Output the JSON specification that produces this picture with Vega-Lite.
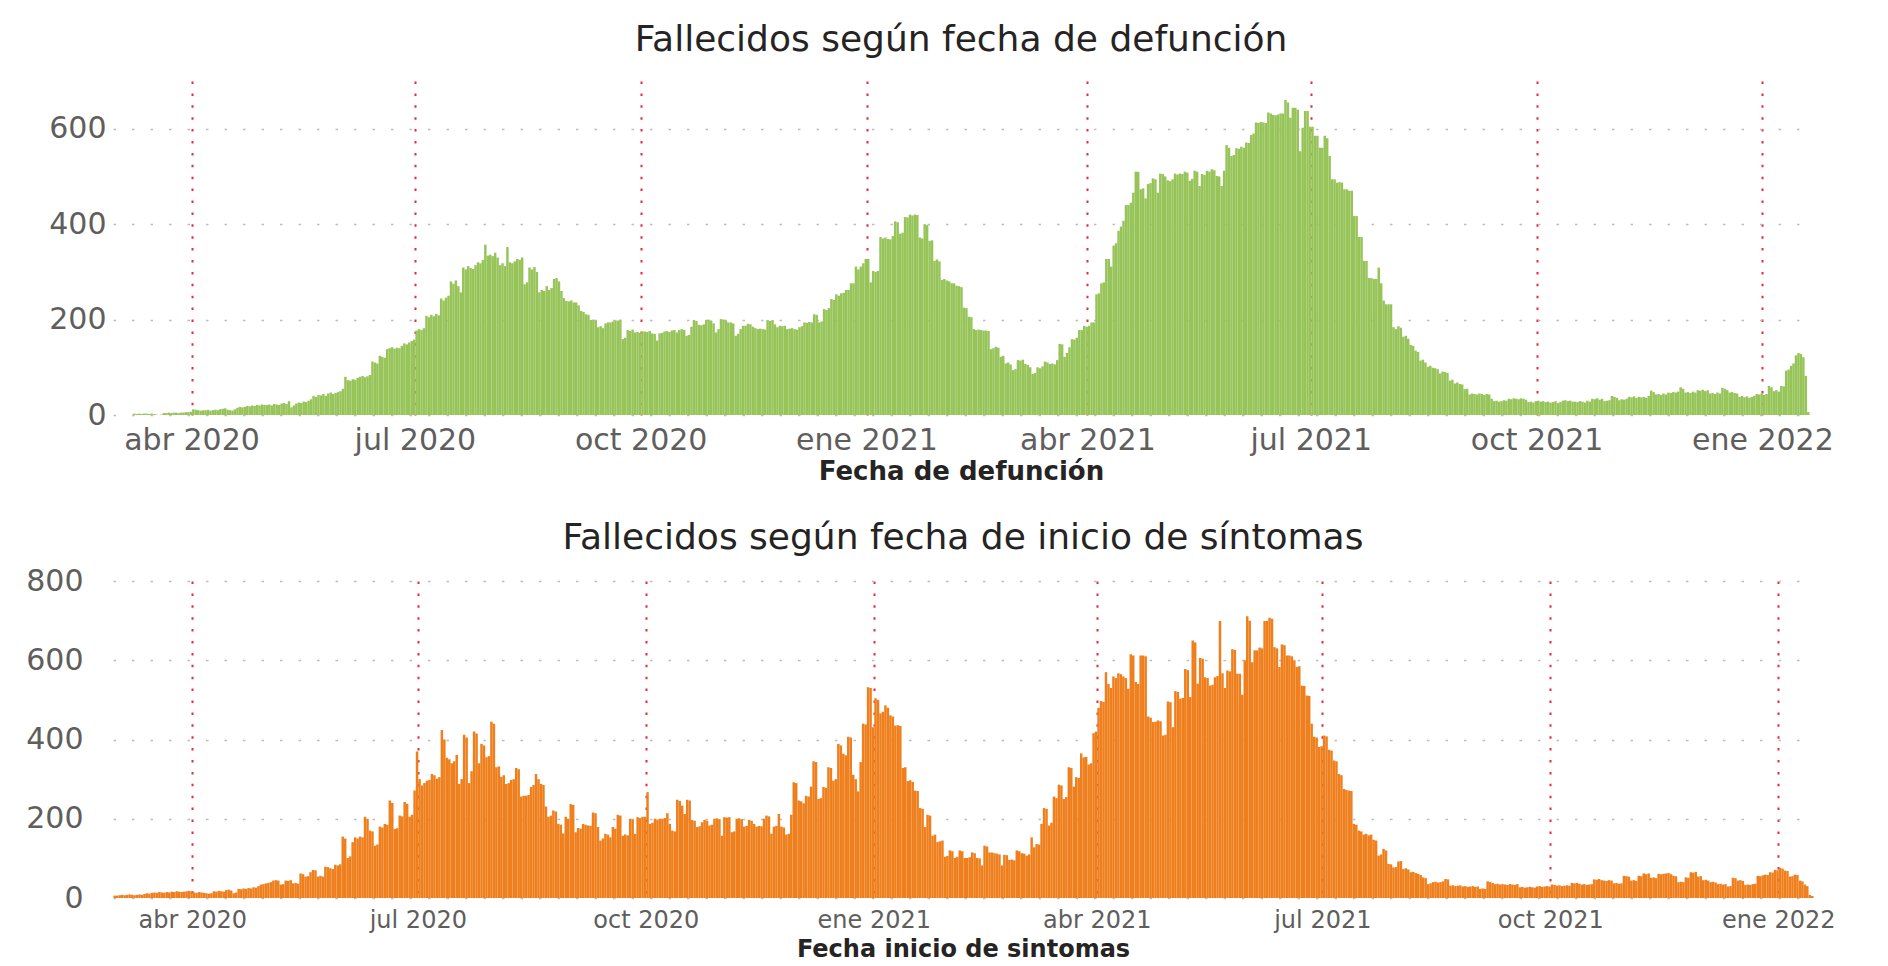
{
"$schema":"https://vega.github.io/schema/vega-lite/v6.json",
"background":"white",
"padding":{"left":25,"top":22,"right":10,"bottom":2},
"config":{"font":"DejaVu Sans","view":{"stroke":null},
"axis":{"domain":false,"ticks":false,"labelColor":"#605E5C","titleColor":"#252423","titleFontWeight":"bold","labelFont":"DejaVu Sans","titleFont":"DejaVu Sans"},
"title":{"color":"#252423","fontSize":36,"fontWeight":"normal","anchor":"middle","font":"DejaVu Sans"}},
"datasets":{
"def":[
{"d":"2020-03-08","v":3},{"d":"2020-03-09","v":2},{"d":"2020-03-10","v":3},{"d":"2020-03-11","v":2},{"d":"2020-03-12","v":3},{"d":"2020-03-13","v":3},{"d":"2020-03-14","v":2},{"d":"2020-03-15","v":3},{"d":"2020-03-16","v":2},{"d":"2020-03-17","v":1},{"d":"2020-03-18","v":0},{"d":"2020-03-19","v":1},{"d":"2020-03-20","v":4},{"d":"2020-03-21","v":4},{"d":"2020-03-22","v":5},{"d":"2020-03-23","v":4},{"d":"2020-03-24","v":5},{"d":"2020-03-25","v":5},{"d":"2020-03-26","v":4},{"d":"2020-03-27","v":5},{"d":"2020-03-28","v":5},{"d":"2020-03-29","v":6},{"d":"2020-03-30","v":6},{"d":"2020-03-31","v":7},
{"d":"2020-04-01","v":12},{"d":"2020-04-02","v":11},{"d":"2020-04-03","v":10},{"d":"2020-04-04","v":9},{"d":"2020-04-05","v":10},{"d":"2020-04-06","v":10},{"d":"2020-04-07","v":11},{"d":"2020-04-08","v":9},{"d":"2020-04-09","v":10},{"d":"2020-04-10","v":11},{"d":"2020-04-11","v":10},{"d":"2020-04-12","v":12},{"d":"2020-04-13","v":13},{"d":"2020-04-14","v":14},{"d":"2020-04-15","v":11},{"d":"2020-04-16","v":10},{"d":"2020-04-17","v":9},{"d":"2020-04-18","v":12},{"d":"2020-04-19","v":15},{"d":"2020-04-20","v":17},{"d":"2020-04-21","v":16},{"d":"2020-04-22","v":17},{"d":"2020-04-23","v":19},{"d":"2020-04-24","v":18},{"d":"2020-04-25","v":20},{"d":"2020-04-26","v":19},{"d":"2020-04-27","v":21},{"d":"2020-04-28","v":20},{"d":"2020-04-29","v":22},{"d":"2020-04-30","v":21},
{"d":"2020-05-01","v":21},{"d":"2020-05-02","v":22},{"d":"2020-05-03","v":20},{"d":"2020-05-04","v":23},{"d":"2020-05-05","v":22},{"d":"2020-05-06","v":21},{"d":"2020-05-07","v":24},{"d":"2020-05-08","v":25},{"d":"2020-05-09","v":23},{"d":"2020-05-10","v":29},{"d":"2020-05-11","v":16},{"d":"2020-05-12","v":20},{"d":"2020-05-13","v":24},{"d":"2020-05-14","v":26},{"d":"2020-05-15","v":25},{"d":"2020-05-16","v":28},{"d":"2020-05-17","v":27},{"d":"2020-05-18","v":30},{"d":"2020-05-19","v":33},{"d":"2020-05-20","v":40},{"d":"2020-05-21","v":38},{"d":"2020-05-22","v":42},{"d":"2020-05-23","v":41},{"d":"2020-05-24","v":44},{"d":"2020-05-25","v":40},{"d":"2020-05-26","v":45},{"d":"2020-05-27","v":47},{"d":"2020-05-28","v":44},{"d":"2020-05-29","v":46},{"d":"2020-05-30","v":48},{"d":"2020-05-31","v":50},
{"d":"2020-06-01","v":55},{"d":"2020-06-02","v":80},{"d":"2020-06-03","v":73},{"d":"2020-06-04","v":72},{"d":"2020-06-05","v":75},{"d":"2020-06-06","v":74},{"d":"2020-06-07","v":78},{"d":"2020-06-08","v":80},{"d":"2020-06-09","v":82},{"d":"2020-06-10","v":79},{"d":"2020-06-11","v":81},{"d":"2020-06-12","v":84},{"d":"2020-06-13","v":112},{"d":"2020-06-14","v":110},{"d":"2020-06-15","v":108},{"d":"2020-06-16","v":124},{"d":"2020-06-17","v":122},{"d":"2020-06-18","v":120},{"d":"2020-06-19","v":138},{"d":"2020-06-20","v":140},{"d":"2020-06-21","v":142},{"d":"2020-06-22","v":139},{"d":"2020-06-23","v":141},{"d":"2020-06-24","v":140},{"d":"2020-06-25","v":145},{"d":"2020-06-26","v":150},{"d":"2020-06-27","v":148},{"d":"2020-06-28","v":152},{"d":"2020-06-29","v":155},{"d":"2020-06-30","v":158},
{"d":"2020-07-01","v":177},{"d":"2020-07-02","v":180},{"d":"2020-07-03","v":178},{"d":"2020-07-04","v":182},{"d":"2020-07-05","v":208},{"d":"2020-07-06","v":205},{"d":"2020-07-07","v":210},{"d":"2020-07-08","v":207},{"d":"2020-07-09","v":212},{"d":"2020-07-10","v":209},{"d":"2020-07-11","v":244},{"d":"2020-07-12","v":240},{"d":"2020-07-13","v":246},{"d":"2020-07-14","v":250},{"d":"2020-07-15","v":280},{"d":"2020-07-16","v":275},{"d":"2020-07-17","v":282},{"d":"2020-07-18","v":270},{"d":"2020-07-19","v":257},{"d":"2020-07-20","v":309},{"d":"2020-07-21","v":305},{"d":"2020-07-22","v":312},{"d":"2020-07-23","v":308},{"d":"2020-07-24","v":306},{"d":"2020-07-25","v":314},{"d":"2020-07-26","v":320},{"d":"2020-07-27","v":318},{"d":"2020-07-28","v":325},{"d":"2020-07-29","v":357},{"d":"2020-07-30","v":334},{"d":"2020-07-31","v":336},
{"d":"2020-08-01","v":333},{"d":"2020-08-02","v":340},{"d":"2020-08-03","v":330},{"d":"2020-08-04","v":314},{"d":"2020-08-05","v":318},{"d":"2020-08-06","v":312},{"d":"2020-08-07","v":352},{"d":"2020-08-08","v":320},{"d":"2020-08-09","v":318},{"d":"2020-08-10","v":322},{"d":"2020-08-11","v":327},{"d":"2020-08-12","v":325},{"d":"2020-08-13","v":330},{"d":"2020-08-14","v":274},{"d":"2020-08-15","v":278},{"d":"2020-08-16","v":309},{"d":"2020-08-17","v":305},{"d":"2020-08-18","v":310},{"d":"2020-08-19","v":300},{"d":"2020-08-20","v":257},{"d":"2020-08-21","v":262},{"d":"2020-08-22","v":260},{"d":"2020-08-23","v":270},{"d":"2020-08-24","v":262},{"d":"2020-08-25","v":266},{"d":"2020-08-26","v":285},{"d":"2020-08-27","v":287},{"d":"2020-08-28","v":280},{"d":"2020-08-29","v":260},{"d":"2020-08-30","v":245},{"d":"2020-08-31","v":239},
{"d":"2020-09-01","v":238},{"d":"2020-09-02","v":240},{"d":"2020-09-03","v":236},{"d":"2020-09-04","v":236},{"d":"2020-09-05","v":230},{"d":"2020-09-06","v":218},{"d":"2020-09-07","v":216},{"d":"2020-09-08","v":211},{"d":"2020-09-09","v":210},{"d":"2020-09-10","v":199},{"d":"2020-09-11","v":200},{"d":"2020-09-12","v":198},{"d":"2020-09-13","v":184},{"d":"2020-09-14","v":186},{"d":"2020-09-15","v":182},{"d":"2020-09-16","v":192},{"d":"2020-09-17","v":194},{"d":"2020-09-18","v":194},{"d":"2020-09-19","v":196},{"d":"2020-09-20","v":198},{"d":"2020-09-21","v":198},{"d":"2020-09-22","v":200},{"d":"2020-09-23","v":159},{"d":"2020-09-24","v":162},{"d":"2020-09-25","v":178},{"d":"2020-09-26","v":176},{"d":"2020-09-27","v":179},{"d":"2020-09-28","v":173},{"d":"2020-09-29","v":174},{"d":"2020-09-30","v":172},
{"d":"2020-10-01","v":175},{"d":"2020-10-02","v":175},{"d":"2020-10-03","v":174},{"d":"2020-10-04","v":176},{"d":"2020-10-05","v":171},{"d":"2020-10-06","v":170},{"d":"2020-10-07","v":156},{"d":"2020-10-08","v":171},{"d":"2020-10-09","v":172},{"d":"2020-10-10","v":175},{"d":"2020-10-11","v":176},{"d":"2020-10-12","v":174},{"d":"2020-10-13","v":177},{"d":"2020-10-14","v":178},{"d":"2020-10-15","v":173},{"d":"2020-10-16","v":178},{"d":"2020-10-17","v":180},{"d":"2020-10-18","v":178},{"d":"2020-10-19","v":166},{"d":"2020-10-20","v":168},{"d":"2020-10-21","v":185},{"d":"2020-10-22","v":199},{"d":"2020-10-23","v":197},{"d":"2020-10-24","v":189},{"d":"2020-10-25","v":188},{"d":"2020-10-26","v":190},{"d":"2020-10-27","v":199},{"d":"2020-10-28","v":200},{"d":"2020-10-29","v":198},{"d":"2020-10-30","v":192},{"d":"2020-10-31","v":173},
{"d":"2020-11-01","v":180},{"d":"2020-11-02","v":201},{"d":"2020-11-03","v":200},{"d":"2020-11-04","v":198},{"d":"2020-11-05","v":194},{"d":"2020-11-06","v":194},{"d":"2020-11-07","v":192},{"d":"2020-11-08","v":166},{"d":"2020-11-09","v":170},{"d":"2020-11-10","v":180},{"d":"2020-11-11","v":187},{"d":"2020-11-12","v":187},{"d":"2020-11-13","v":191},{"d":"2020-11-14","v":190},{"d":"2020-11-15","v":185},{"d":"2020-11-16","v":182},{"d":"2020-11-17","v":180},{"d":"2020-11-18","v":181},{"d":"2020-11-19","v":180},{"d":"2020-11-20","v":179},{"d":"2020-11-21","v":199},{"d":"2020-11-22","v":197},{"d":"2020-11-23","v":199},{"d":"2020-11-24","v":190},{"d":"2020-11-25","v":184},{"d":"2020-11-26","v":187},{"d":"2020-11-27","v":186},{"d":"2020-11-28","v":187},{"d":"2020-11-29","v":180},{"d":"2020-11-30","v":181},
{"d":"2020-12-01","v":182},{"d":"2020-12-02","v":180},{"d":"2020-12-03","v":179},{"d":"2020-12-04","v":184},{"d":"2020-12-05","v":186},{"d":"2020-12-06","v":194},{"d":"2020-12-07","v":193},{"d":"2020-12-08","v":195},{"d":"2020-12-09","v":194},{"d":"2020-12-10","v":211},{"d":"2020-12-11","v":210},{"d":"2020-12-12","v":194},{"d":"2020-12-13","v":196},{"d":"2020-12-14","v":222},{"d":"2020-12-15","v":220},{"d":"2020-12-16","v":224},{"d":"2020-12-17","v":243},{"d":"2020-12-18","v":241},{"d":"2020-12-19","v":253},{"d":"2020-12-20","v":250},{"d":"2020-12-21","v":255},{"d":"2020-12-22","v":256},{"d":"2020-12-23","v":262},{"d":"2020-12-24","v":262},{"d":"2020-12-25","v":276},{"d":"2020-12-26","v":276},{"d":"2020-12-27","v":311},{"d":"2020-12-28","v":305},{"d":"2020-12-29","v":311},{"d":"2020-12-30","v":318},{"d":"2020-12-31","v":327},
{"d":"2021-01-01","v":327},{"d":"2021-01-02","v":278},{"d":"2021-01-03","v":302},{"d":"2021-01-04","v":300},{"d":"2021-01-05","v":302},{"d":"2021-01-06","v":373},{"d":"2021-01-07","v":370},{"d":"2021-01-08","v":372},{"d":"2021-01-09","v":369},{"d":"2021-01-10","v":368},{"d":"2021-01-11","v":375},{"d":"2021-01-12","v":406},{"d":"2021-01-13","v":404},{"d":"2021-01-14","v":380},{"d":"2021-01-15","v":382},{"d":"2021-01-16","v":415},{"d":"2021-01-17","v":414},{"d":"2021-01-18","v":420},{"d":"2021-01-19","v":418},{"d":"2021-01-20","v":420},{"d":"2021-01-21","v":419},{"d":"2021-01-22","v":372},{"d":"2021-01-23","v":370},{"d":"2021-01-24","v":400},{"d":"2021-01-25","v":398},{"d":"2021-01-26","v":365},{"d":"2021-01-27","v":366},{"d":"2021-01-28","v":323},{"d":"2021-01-29","v":326},{"d":"2021-01-30","v":322},{"d":"2021-01-31","v":283},
{"d":"2021-02-01","v":285},{"d":"2021-02-02","v":282},{"d":"2021-02-03","v":280},{"d":"2021-02-04","v":276},{"d":"2021-02-05","v":276},{"d":"2021-02-06","v":271},{"d":"2021-02-07","v":270},{"d":"2021-02-08","v":268},{"d":"2021-02-09","v":225},{"d":"2021-02-10","v":224},{"d":"2021-02-11","v":206},{"d":"2021-02-12","v":205},{"d":"2021-02-13","v":180},{"d":"2021-02-14","v":178},{"d":"2021-02-15","v":179},{"d":"2021-02-16","v":178},{"d":"2021-02-17","v":177},{"d":"2021-02-18","v":177},{"d":"2021-02-19","v":176},{"d":"2021-02-20","v":138},{"d":"2021-02-21","v":140},{"d":"2021-02-22","v":143},{"d":"2021-02-23","v":141},{"d":"2021-02-24","v":122},{"d":"2021-02-25","v":124},{"d":"2021-02-26","v":108},{"d":"2021-02-27","v":110},{"d":"2021-02-28","v":106},
{"d":"2021-03-01","v":94},{"d":"2021-03-02","v":96},{"d":"2021-03-03","v":115},{"d":"2021-03-04","v":114},{"d":"2021-03-05","v":116},{"d":"2021-03-06","v":107},{"d":"2021-03-07","v":105},{"d":"2021-03-08","v":100},{"d":"2021-03-09","v":86},{"d":"2021-03-10","v":88},{"d":"2021-03-11","v":100},{"d":"2021-03-12","v":98},{"d":"2021-03-13","v":102},{"d":"2021-03-14","v":112},{"d":"2021-03-15","v":110},{"d":"2021-03-16","v":107},{"d":"2021-03-17","v":108},{"d":"2021-03-18","v":106},{"d":"2021-03-19","v":115},{"d":"2021-03-20","v":149},{"d":"2021-03-21","v":148},{"d":"2021-03-22","v":122},{"d":"2021-03-23","v":130},{"d":"2021-03-24","v":142},{"d":"2021-03-25","v":159},{"d":"2021-03-26","v":158},{"d":"2021-03-27","v":162},{"d":"2021-03-28","v":178},{"d":"2021-03-29","v":178},{"d":"2021-03-30","v":187},{"d":"2021-03-31","v":185},
{"d":"2021-04-01","v":187},{"d":"2021-04-02","v":194},{"d":"2021-04-03","v":194},{"d":"2021-04-04","v":253},{"d":"2021-04-05","v":255},{"d":"2021-04-06","v":276},{"d":"2021-04-07","v":278},{"d":"2021-04-08","v":327},{"d":"2021-04-09","v":327},{"d":"2021-04-10","v":311},{"d":"2021-04-11","v":355},{"d":"2021-04-12","v":360},{"d":"2021-04-13","v":386},{"d":"2021-04-14","v":395},{"d":"2021-04-15","v":407},{"d":"2021-04-16","v":440},{"d":"2021-04-17","v":440},{"d":"2021-04-18","v":445},{"d":"2021-04-19","v":466},{"d":"2021-04-20","v":510},{"d":"2021-04-21","v":510},{"d":"2021-04-22","v":473},{"d":"2021-04-23","v":475},{"d":"2021-04-24","v":454},{"d":"2021-04-25","v":484},{"d":"2021-04-26","v":486},{"d":"2021-04-27","v":496},{"d":"2021-04-28","v":494},{"d":"2021-04-29","v":466},{"d":"2021-04-30","v":506},
{"d":"2021-05-01","v":505},{"d":"2021-05-02","v":500},{"d":"2021-05-03","v":492},{"d":"2021-05-04","v":490},{"d":"2021-05-05","v":494},{"d":"2021-05-06","v":506},{"d":"2021-05-07","v":504},{"d":"2021-05-08","v":506},{"d":"2021-05-09","v":505},{"d":"2021-05-10","v":510},{"d":"2021-05-11","v":508},{"d":"2021-05-12","v":491},{"d":"2021-05-13","v":495},{"d":"2021-05-14","v":512},{"d":"2021-05-15","v":510},{"d":"2021-05-16","v":480},{"d":"2021-05-17","v":505},{"d":"2021-05-18","v":503},{"d":"2021-05-19","v":512},{"d":"2021-05-20","v":510},{"d":"2021-05-21","v":515},{"d":"2021-05-22","v":513},{"d":"2021-05-23","v":501},{"d":"2021-05-24","v":500},{"d":"2021-05-25","v":480},{"d":"2021-05-26","v":512},{"d":"2021-05-27","v":566},{"d":"2021-05-28","v":560},{"d":"2021-05-29","v":543},{"d":"2021-05-30","v":545},{"d":"2021-05-31","v":559},
{"d":"2021-06-01","v":558},{"d":"2021-06-02","v":562},{"d":"2021-06-03","v":560},{"d":"2021-06-04","v":571},{"d":"2021-06-05","v":570},{"d":"2021-06-06","v":587},{"d":"2021-06-07","v":590},{"d":"2021-06-08","v":613},{"d":"2021-06-09","v":612},{"d":"2021-06-10","v":614},{"d":"2021-06-11","v":613},{"d":"2021-06-12","v":612},{"d":"2021-06-13","v":634},{"d":"2021-06-14","v":632},{"d":"2021-06-15","v":629},{"d":"2021-06-16","v":628},{"d":"2021-06-17","v":630},{"d":"2021-06-18","v":632},{"d":"2021-06-19","v":632},{"d":"2021-06-20","v":660},{"d":"2021-06-21","v":655},{"d":"2021-06-22","v":623},{"d":"2021-06-23","v":644},{"d":"2021-06-24","v":644},{"d":"2021-06-25","v":640},{"d":"2021-06-26","v":553},{"d":"2021-06-27","v":602},{"d":"2021-06-28","v":637},{"d":"2021-06-29","v":637},{"d":"2021-06-30","v":604},
{"d":"2021-07-01","v":604},{"d":"2021-07-02","v":585},{"d":"2021-07-03","v":585},{"d":"2021-07-04","v":560},{"d":"2021-07-05","v":560},{"d":"2021-07-06","v":585},{"d":"2021-07-07","v":580},{"d":"2021-07-08","v":543},{"d":"2021-07-09","v":494},{"d":"2021-07-10","v":494},{"d":"2021-07-11","v":487},{"d":"2021-07-12","v":488},{"d":"2021-07-13","v":487},{"d":"2021-07-14","v":473},{"d":"2021-07-15","v":473},{"d":"2021-07-16","v":470},{"d":"2021-07-17","v":470},{"d":"2021-07-18","v":417},{"d":"2021-07-19","v":417},{"d":"2021-07-20","v":373},{"d":"2021-07-21","v":373},{"d":"2021-07-22","v":323},{"d":"2021-07-23","v":323},{"d":"2021-07-24","v":287},{"d":"2021-07-25","v":287},{"d":"2021-07-26","v":285},{"d":"2021-07-27","v":285},{"d":"2021-07-28","v":309},{"d":"2021-07-29","v":276},{"d":"2021-07-30","v":240},{"d":"2021-07-31","v":232},
{"d":"2021-08-01","v":232},{"d":"2021-08-02","v":232},{"d":"2021-08-03","v":184},{"d":"2021-08-04","v":180},{"d":"2021-08-05","v":186},{"d":"2021-08-06","v":183},{"d":"2021-08-07","v":164},{"d":"2021-08-08","v":166},{"d":"2021-08-09","v":160},{"d":"2021-08-10","v":147},{"d":"2021-08-11","v":145},{"d":"2021-08-12","v":135},{"d":"2021-08-13","v":132},{"d":"2021-08-14","v":114},{"d":"2021-08-15","v":116},{"d":"2021-08-16","v":110},{"d":"2021-08-17","v":101},{"d":"2021-08-18","v":103},{"d":"2021-08-19","v":99},{"d":"2021-08-20","v":98},{"d":"2021-08-21","v":96},{"d":"2021-08-22","v":87},{"d":"2021-08-23","v":91},{"d":"2021-08-24","v":90},{"d":"2021-08-25","v":88},{"d":"2021-08-26","v":72},{"d":"2021-08-27","v":74},{"d":"2021-08-28","v":66},{"d":"2021-08-29","v":68},{"d":"2021-08-30","v":65},{"d":"2021-08-31","v":64},
{"d":"2021-09-01","v":54},{"d":"2021-09-02","v":55},{"d":"2021-09-03","v":43},{"d":"2021-09-04","v":45},{"d":"2021-09-05","v":44},{"d":"2021-09-06","v":43},{"d":"2021-09-07","v":45},{"d":"2021-09-08","v":44},{"d":"2021-09-09","v":42},{"d":"2021-09-10","v":44},{"d":"2021-09-11","v":43},{"d":"2021-09-12","v":34},{"d":"2021-09-13","v":29},{"d":"2021-09-14","v":30},{"d":"2021-09-15","v":28},{"d":"2021-09-16","v":29},{"d":"2021-09-17","v":31},{"d":"2021-09-18","v":30},{"d":"2021-09-19","v":34},{"d":"2021-09-20","v":33},{"d":"2021-09-21","v":35},{"d":"2021-09-22","v":34},{"d":"2021-09-23","v":33},{"d":"2021-09-24","v":35},{"d":"2021-09-25","v":34},{"d":"2021-09-26","v":32},{"d":"2021-09-27","v":27},{"d":"2021-09-28","v":28},{"d":"2021-09-29","v":26},{"d":"2021-09-30","v":29},
{"d":"2021-10-01","v":30},{"d":"2021-10-02","v":28},{"d":"2021-10-03","v":29},{"d":"2021-10-04","v":27},{"d":"2021-10-05","v":28},{"d":"2021-10-06","v":26},{"d":"2021-10-07","v":27},{"d":"2021-10-08","v":29},{"d":"2021-10-09","v":25},{"d":"2021-10-10","v":27},{"d":"2021-10-11","v":30},{"d":"2021-10-12","v":31},{"d":"2021-10-13","v":29},{"d":"2021-10-14","v":30},{"d":"2021-10-15","v":28},{"d":"2021-10-16","v":28},{"d":"2021-10-17","v":27},{"d":"2021-10-18","v":29},{"d":"2021-10-19","v":28},{"d":"2021-10-20","v":26},{"d":"2021-10-21","v":30},{"d":"2021-10-22","v":28},{"d":"2021-10-23","v":34},{"d":"2021-10-24","v":33},{"d":"2021-10-25","v":35},{"d":"2021-10-26","v":32},{"d":"2021-10-27","v":34},{"d":"2021-10-28","v":29},{"d":"2021-10-29","v":30},{"d":"2021-10-30","v":31},{"d":"2021-10-31","v":40},
{"d":"2021-11-01","v":38},{"d":"2021-11-02","v":36},{"d":"2021-11-03","v":31},{"d":"2021-11-04","v":33},{"d":"2021-11-05","v":32},{"d":"2021-11-06","v":34},{"d":"2021-11-07","v":38},{"d":"2021-11-08","v":37},{"d":"2021-11-09","v":39},{"d":"2021-11-10","v":36},{"d":"2021-11-11","v":38},{"d":"2021-11-12","v":37},{"d":"2021-11-13","v":38},{"d":"2021-11-14","v":36},{"d":"2021-11-15","v":40},{"d":"2021-11-16","v":51},{"d":"2021-11-17","v":48},{"d":"2021-11-18","v":43},{"d":"2021-11-19","v":44},{"d":"2021-11-20","v":42},{"d":"2021-11-21","v":45},{"d":"2021-11-22","v":43},{"d":"2021-11-23","v":47},{"d":"2021-11-24","v":46},{"d":"2021-11-25","v":48},{"d":"2021-11-26","v":47},{"d":"2021-11-27","v":49},{"d":"2021-11-28","v":58},{"d":"2021-11-29","v":55},{"d":"2021-11-30","v":47},
{"d":"2021-12-01","v":48},{"d":"2021-12-02","v":46},{"d":"2021-12-03","v":49},{"d":"2021-12-04","v":47},{"d":"2021-12-05","v":52},{"d":"2021-12-06","v":51},{"d":"2021-12-07","v":53},{"d":"2021-12-08","v":50},{"d":"2021-12-09","v":52},{"d":"2021-12-10","v":45},{"d":"2021-12-11","v":46},{"d":"2021-12-12","v":44},{"d":"2021-12-13","v":47},{"d":"2021-12-14","v":45},{"d":"2021-12-15","v":57},{"d":"2021-12-16","v":55},{"d":"2021-12-17","v":52},{"d":"2021-12-18","v":47},{"d":"2021-12-19","v":48},{"d":"2021-12-20","v":46},{"d":"2021-12-21","v":45},{"d":"2021-12-22","v":38},{"d":"2021-12-23","v":40},{"d":"2021-12-24","v":37},{"d":"2021-12-25","v":39},{"d":"2021-12-26","v":36},{"d":"2021-12-27","v":38},{"d":"2021-12-28","v":40},{"d":"2021-12-29","v":44},{"d":"2021-12-30","v":43},{"d":"2021-12-31","v":45},
{"d":"2022-01-01","v":42},{"d":"2022-01-02","v":44},{"d":"2022-01-03","v":61},{"d":"2022-01-04","v":58},{"d":"2022-01-05","v":50},{"d":"2022-01-06","v":52},{"d":"2022-01-07","v":49},{"d":"2022-01-08","v":61},{"d":"2022-01-09","v":60},{"d":"2022-01-10","v":93},{"d":"2022-01-11","v":95},{"d":"2022-01-12","v":103},{"d":"2022-01-13","v":108},{"d":"2022-01-14","v":125},{"d":"2022-01-15","v":130},{"d":"2022-01-16","v":128},{"d":"2022-01-17","v":121},{"d":"2022-01-18","v":82},{"d":"2022-01-19","v":6}
],
"sin":[
{"d":"2020-02-29","v":6},
{"d":"2020-03-01","v":6},{"d":"2020-03-02","v":7},{"d":"2020-03-03","v":8},{"d":"2020-03-04","v":7},{"d":"2020-03-05","v":8},{"d":"2020-03-06","v":9},{"d":"2020-03-07","v":8},{"d":"2020-03-08","v":7},{"d":"2020-03-09","v":8},{"d":"2020-03-10","v":9},{"d":"2020-03-11","v":8},{"d":"2020-03-12","v":10},{"d":"2020-03-13","v":12},{"d":"2020-03-14","v":11},{"d":"2020-03-15","v":13},{"d":"2020-03-16","v":14},{"d":"2020-03-17","v":13},{"d":"2020-03-18","v":15},{"d":"2020-03-19","v":14},{"d":"2020-03-20","v":13},{"d":"2020-03-21","v":15},{"d":"2020-03-22","v":14},{"d":"2020-03-23","v":16},{"d":"2020-03-24","v":15},{"d":"2020-03-25","v":17},{"d":"2020-03-26","v":16},{"d":"2020-03-27","v":15},{"d":"2020-03-28","v":16},{"d":"2020-03-29","v":17},{"d":"2020-03-30","v":18},{"d":"2020-03-31","v":17},
{"d":"2020-04-01","v":14},{"d":"2020-04-02","v":13},{"d":"2020-04-03","v":15},{"d":"2020-04-04","v":14},{"d":"2020-04-05","v":13},{"d":"2020-04-06","v":12},{"d":"2020-04-07","v":11},{"d":"2020-04-08","v":12},{"d":"2020-04-09","v":17},{"d":"2020-04-10","v":16},{"d":"2020-04-11","v":18},{"d":"2020-04-12","v":17},{"d":"2020-04-13","v":16},{"d":"2020-04-14","v":20},{"d":"2020-04-15","v":21},{"d":"2020-04-16","v":19},{"d":"2020-04-17","v":12},{"d":"2020-04-18","v":14},{"d":"2020-04-19","v":23},{"d":"2020-04-20","v":22},{"d":"2020-04-21","v":24},{"d":"2020-04-22","v":23},{"d":"2020-04-23","v":25},{"d":"2020-04-24","v":24},{"d":"2020-04-25","v":27},{"d":"2020-04-26","v":26},{"d":"2020-04-27","v":30},{"d":"2020-04-28","v":34},{"d":"2020-04-29","v":35},{"d":"2020-04-30","v":37},
{"d":"2020-05-01","v":38},{"d":"2020-05-02","v":40},{"d":"2020-05-03","v":44},{"d":"2020-05-04","v":45},{"d":"2020-05-05","v":44},{"d":"2020-05-06","v":34},{"d":"2020-05-07","v":35},{"d":"2020-05-08","v":44},{"d":"2020-05-09","v":43},{"d":"2020-05-10","v":45},{"d":"2020-05-11","v":37},{"d":"2020-05-12","v":38},{"d":"2020-05-13","v":36},{"d":"2020-05-14","v":62},{"d":"2020-05-15","v":60},{"d":"2020-05-16","v":54},{"d":"2020-05-17","v":55},{"d":"2020-05-18","v":65},{"d":"2020-05-19","v":71},{"d":"2020-05-20","v":70},{"d":"2020-05-21","v":54},{"d":"2020-05-22","v":56},{"d":"2020-05-23","v":54},{"d":"2020-05-24","v":79},{"d":"2020-05-25","v":78},{"d":"2020-05-26","v":75},{"d":"2020-05-27","v":73},{"d":"2020-05-28","v":84},{"d":"2020-05-29","v":82},{"d":"2020-05-30","v":85},{"d":"2020-05-31","v":155},
{"d":"2020-06-01","v":150},{"d":"2020-06-02","v":101},{"d":"2020-06-03","v":105},{"d":"2020-06-04","v":141},{"d":"2020-06-05","v":153},{"d":"2020-06-06","v":150},{"d":"2020-06-07","v":155},{"d":"2020-06-08","v":153},{"d":"2020-06-09","v":205},{"d":"2020-06-10","v":200},{"d":"2020-06-11","v":170},{"d":"2020-06-12","v":168},{"d":"2020-06-13","v":132},{"d":"2020-06-14","v":135},{"d":"2020-06-15","v":180},{"d":"2020-06-16","v":178},{"d":"2020-06-17","v":187},{"d":"2020-06-18","v":185},{"d":"2020-06-19","v":246},{"d":"2020-06-20","v":240},{"d":"2020-06-21","v":174},{"d":"2020-06-22","v":176},{"d":"2020-06-23","v":208},{"d":"2020-06-24","v":206},{"d":"2020-06-25","v":242},{"d":"2020-06-26","v":238},{"d":"2020-06-27","v":205},{"d":"2020-06-28","v":210},{"d":"2020-06-29","v":271},{"d":"2020-06-30","v":370},
{"d":"2020-07-01","v":300},{"d":"2020-07-02","v":284},{"d":"2020-07-03","v":290},{"d":"2020-07-04","v":296},{"d":"2020-07-05","v":298},{"d":"2020-07-06","v":313},{"d":"2020-07-07","v":310},{"d":"2020-07-08","v":301},{"d":"2020-07-09","v":305},{"d":"2020-07-10","v":424},{"d":"2020-07-11","v":400},{"d":"2020-07-12","v":354},{"d":"2020-07-13","v":350},{"d":"2020-07-14","v":340},{"d":"2020-07-15","v":345},{"d":"2020-07-16","v":361},{"d":"2020-07-17","v":288},{"d":"2020-07-18","v":300},{"d":"2020-07-19","v":412},{"d":"2020-07-20","v":405},{"d":"2020-07-21","v":290},{"d":"2020-07-22","v":320},{"d":"2020-07-23","v":420},{"d":"2020-07-24","v":415},{"d":"2020-07-25","v":340},{"d":"2020-07-26","v":389},{"d":"2020-07-27","v":385},{"d":"2020-07-28","v":355},{"d":"2020-07-29","v":358},{"d":"2020-07-30","v":445},{"d":"2020-07-31","v":440},
{"d":"2020-08-01","v":330},{"d":"2020-08-02","v":332},{"d":"2020-08-03","v":306},{"d":"2020-08-04","v":310},{"d":"2020-08-05","v":288},{"d":"2020-08-06","v":290},{"d":"2020-08-07","v":298},{"d":"2020-08-08","v":300},{"d":"2020-08-09","v":328},{"d":"2020-08-10","v":325},{"d":"2020-08-11","v":256},{"d":"2020-08-12","v":258},{"d":"2020-08-13","v":258},{"d":"2020-08-14","v":260},{"d":"2020-08-15","v":280},{"d":"2020-08-16","v":285},{"d":"2020-08-17","v":313},{"d":"2020-08-18","v":300},{"d":"2020-08-19","v":288},{"d":"2020-08-20","v":285},{"d":"2020-08-21","v":231},{"d":"2020-08-22","v":205},{"d":"2020-08-23","v":208},{"d":"2020-08-24","v":221},{"d":"2020-08-25","v":218},{"d":"2020-08-26","v":187},{"d":"2020-08-27","v":185},{"d":"2020-08-28","v":163},{"d":"2020-08-29","v":205},{"d":"2020-08-30","v":200},{"d":"2020-08-31","v":237},
{"d":"2020-09-01","v":235},{"d":"2020-09-02","v":166},{"d":"2020-09-03","v":177},{"d":"2020-09-04","v":175},{"d":"2020-09-05","v":187},{"d":"2020-09-06","v":185},{"d":"2020-09-07","v":183},{"d":"2020-09-08","v":182},{"d":"2020-09-09","v":216},{"d":"2020-09-10","v":214},{"d":"2020-09-11","v":179},{"d":"2020-09-12","v":145},{"d":"2020-09-13","v":150},{"d":"2020-09-14","v":162},{"d":"2020-09-15","v":160},{"d":"2020-09-16","v":153},{"d":"2020-09-17","v":179},{"d":"2020-09-18","v":175},{"d":"2020-09-19","v":210},{"d":"2020-09-20","v":208},{"d":"2020-09-21","v":157},{"d":"2020-09-22","v":160},{"d":"2020-09-23","v":158},{"d":"2020-09-24","v":200},{"d":"2020-09-25","v":198},{"d":"2020-09-26","v":162},{"d":"2020-09-27","v":204},{"d":"2020-09-28","v":202},{"d":"2020-09-29","v":205},{"d":"2020-09-30","v":205},
{"d":"2020-10-01","v":267},{"d":"2020-10-02","v":187},{"d":"2020-10-03","v":190},{"d":"2020-10-04","v":200},{"d":"2020-10-05","v":198},{"d":"2020-10-06","v":200},{"d":"2020-10-07","v":200},{"d":"2020-10-08","v":202},{"d":"2020-10-09","v":214},{"d":"2020-10-10","v":187},{"d":"2020-10-11","v":170},{"d":"2020-10-12","v":168},{"d":"2020-10-13","v":248},{"d":"2020-10-14","v":245},{"d":"2020-10-15","v":233},{"d":"2020-10-16","v":212},{"d":"2020-10-17","v":248},{"d":"2020-10-18","v":246},{"d":"2020-10-19","v":197},{"d":"2020-10-20","v":195},{"d":"2020-10-21","v":179},{"d":"2020-10-22","v":181},{"d":"2020-10-23","v":191},{"d":"2020-10-24","v":197},{"d":"2020-10-25","v":195},{"d":"2020-10-26","v":183},{"d":"2020-10-27","v":185},{"d":"2020-10-28","v":200},{"d":"2020-10-29","v":201},{"d":"2020-10-30","v":199},{"d":"2020-10-31","v":157},
{"d":"2020-11-01","v":204},{"d":"2020-11-02","v":203},{"d":"2020-11-03","v":204},{"d":"2020-11-04","v":166},{"d":"2020-11-05","v":168},{"d":"2020-11-06","v":200},{"d":"2020-11-07","v":201},{"d":"2020-11-08","v":199},{"d":"2020-11-09","v":180},{"d":"2020-11-10","v":182},{"d":"2020-11-11","v":197},{"d":"2020-11-12","v":195},{"d":"2020-11-13","v":187},{"d":"2020-11-14","v":180},{"d":"2020-11-15","v":182},{"d":"2020-11-16","v":181},{"d":"2020-11-17","v":200},{"d":"2020-11-18","v":208},{"d":"2020-11-19","v":206},{"d":"2020-11-20","v":162},{"d":"2020-11-21","v":180},{"d":"2020-11-22","v":182},{"d":"2020-11-23","v":212},{"d":"2020-11-24","v":180},{"d":"2020-11-25","v":178},{"d":"2020-11-26","v":160},{"d":"2020-11-27","v":162},{"d":"2020-11-28","v":210},{"d":"2020-11-29","v":292},{"d":"2020-11-30","v":290},
{"d":"2020-12-01","v":246},{"d":"2020-12-02","v":244},{"d":"2020-12-03","v":239},{"d":"2020-12-04","v":258},{"d":"2020-12-05","v":256},{"d":"2020-12-06","v":281},{"d":"2020-12-07","v":345},{"d":"2020-12-08","v":343},{"d":"2020-12-09","v":250},{"d":"2020-12-10","v":252},{"d":"2020-12-11","v":280},{"d":"2020-12-12","v":278},{"d":"2020-12-13","v":330},{"d":"2020-12-14","v":328},{"d":"2020-12-15","v":296},{"d":"2020-12-16","v":300},{"d":"2020-12-17","v":389},{"d":"2020-12-18","v":385},{"d":"2020-12-19","v":364},{"d":"2020-12-20","v":360},{"d":"2020-12-21","v":407},{"d":"2020-12-22","v":405},{"d":"2020-12-23","v":311},{"d":"2020-12-24","v":300},{"d":"2020-12-25","v":269},{"d":"2020-12-26","v":343},{"d":"2020-12-27","v":440},{"d":"2020-12-28","v":438},{"d":"2020-12-29","v":532},{"d":"2020-12-30","v":530},{"d":"2020-12-31","v":431},
{"d":"2021-01-01","v":504},{"d":"2021-01-02","v":500},{"d":"2021-01-03","v":466},{"d":"2021-01-04","v":470},{"d":"2021-01-05","v":486},{"d":"2021-01-06","v":480},{"d":"2021-01-07","v":461},{"d":"2021-01-08","v":458},{"d":"2021-01-09","v":435},{"d":"2021-01-10","v":436},{"d":"2021-01-11","v":434},{"d":"2021-01-12","v":328},{"d":"2021-01-13","v":330},{"d":"2021-01-14","v":295},{"d":"2021-01-15","v":297},{"d":"2021-01-16","v":293},{"d":"2021-01-17","v":271},{"d":"2021-01-18","v":270},{"d":"2021-01-19","v":227},{"d":"2021-01-20","v":225},{"d":"2021-01-21","v":179},{"d":"2021-01-22","v":210},{"d":"2021-01-23","v":208},{"d":"2021-01-24","v":157},{"d":"2021-01-25","v":160},{"d":"2021-01-26","v":141},{"d":"2021-01-27","v":143},{"d":"2021-01-28","v":145},{"d":"2021-01-29","v":104},{"d":"2021-01-30","v":106},{"d":"2021-01-31","v":120},
{"d":"2021-02-01","v":118},{"d":"2021-02-02","v":101},{"d":"2021-02-03","v":104},{"d":"2021-02-04","v":120},{"d":"2021-02-05","v":118},{"d":"2021-02-06","v":101},{"d":"2021-02-07","v":101},{"d":"2021-02-08","v":103},{"d":"2021-02-09","v":115},{"d":"2021-02-10","v":113},{"d":"2021-02-11","v":101},{"d":"2021-02-12","v":100},{"d":"2021-02-13","v":82},{"d":"2021-02-14","v":132},{"d":"2021-02-15","v":130},{"d":"2021-02-16","v":115},{"d":"2021-02-17","v":115},{"d":"2021-02-18","v":113},{"d":"2021-02-19","v":112},{"d":"2021-02-20","v":110},{"d":"2021-02-21","v":82},{"d":"2021-02-22","v":109},{"d":"2021-02-23","v":108},{"d":"2021-02-24","v":96},{"d":"2021-02-25","v":97},{"d":"2021-02-26","v":95},{"d":"2021-02-27","v":120},{"d":"2021-02-28","v":118},
{"d":"2021-03-01","v":113},{"d":"2021-03-02","v":112},{"d":"2021-03-03","v":107},{"d":"2021-03-04","v":110},{"d":"2021-03-05","v":153},{"d":"2021-03-06","v":128},{"d":"2021-03-07","v":136},{"d":"2021-03-08","v":135},{"d":"2021-03-09","v":187},{"d":"2021-03-10","v":227},{"d":"2021-03-11","v":225},{"d":"2021-03-12","v":183},{"d":"2021-03-13","v":190},{"d":"2021-03-14","v":256},{"d":"2021-03-15","v":252},{"d":"2021-03-16","v":286},{"d":"2021-03-17","v":284},{"d":"2021-03-18","v":250},{"d":"2021-03-19","v":255},{"d":"2021-03-20","v":330},{"d":"2021-03-21","v":328},{"d":"2021-03-22","v":281},{"d":"2021-03-23","v":305},{"d":"2021-03-24","v":303},{"d":"2021-03-25","v":365},{"d":"2021-03-26","v":355},{"d":"2021-03-27","v":356},{"d":"2021-03-28","v":337},{"d":"2021-03-29","v":340},{"d":"2021-03-30","v":416},{"d":"2021-03-31","v":420},
{"d":"2021-04-01","v":480},{"d":"2021-04-02","v":497},{"d":"2021-04-03","v":495},{"d":"2021-04-04","v":570},{"d":"2021-04-05","v":540},{"d":"2021-04-06","v":530},{"d":"2021-04-07","v":559},{"d":"2021-04-08","v":555},{"d":"2021-04-09","v":567},{"d":"2021-04-10","v":565},{"d":"2021-04-11","v":559},{"d":"2021-04-12","v":555},{"d":"2021-04-13","v":528},{"d":"2021-04-14","v":615},{"d":"2021-04-15","v":612},{"d":"2021-04-16","v":545},{"d":"2021-04-17","v":540},{"d":"2021-04-18","v":612},{"d":"2021-04-19","v":612},{"d":"2021-04-20","v":610},{"d":"2021-04-21","v":458},{"d":"2021-04-22","v":455},{"d":"2021-04-23","v":444},{"d":"2021-04-24","v":445},{"d":"2021-04-25","v":448},{"d":"2021-04-26","v":446},{"d":"2021-04-27","v":410},{"d":"2021-04-28","v":412},{"d":"2021-04-29","v":496},{"d":"2021-04-30","v":494},
{"d":"2021-05-01","v":431},{"d":"2021-05-02","v":522},{"d":"2021-05-03","v":520},{"d":"2021-05-04","v":503},{"d":"2021-05-05","v":505},{"d":"2021-05-06","v":578},{"d":"2021-05-07","v":575},{"d":"2021-05-08","v":507},{"d":"2021-05-09","v":650},{"d":"2021-05-10","v":645},{"d":"2021-05-11","v":541},{"d":"2021-05-12","v":606},{"d":"2021-05-13","v":604},{"d":"2021-05-14","v":557},{"d":"2021-05-15","v":555},{"d":"2021-05-16","v":536},{"d":"2021-05-17","v":538},{"d":"2021-05-18","v":557},{"d":"2021-05-19","v":560},{"d":"2021-05-20","v":699},{"d":"2021-05-21","v":567},{"d":"2021-05-22","v":530},{"d":"2021-05-23","v":574},{"d":"2021-05-24","v":572},{"d":"2021-05-25","v":628},{"d":"2021-05-26","v":626},{"d":"2021-05-27","v":566},{"d":"2021-05-28","v":566},{"d":"2021-05-29","v":513},{"d":"2021-05-30","v":600},{"d":"2021-05-31","v":711},
{"d":"2021-06-01","v":700},{"d":"2021-06-02","v":595},{"d":"2021-06-03","v":625},{"d":"2021-06-04","v":625},{"d":"2021-06-05","v":632},{"d":"2021-06-06","v":630},{"d":"2021-06-07","v":699},{"d":"2021-06-08","v":699},{"d":"2021-06-09","v":707},{"d":"2021-06-10","v":705},{"d":"2021-06-11","v":633},{"d":"2021-06-12","v":630},{"d":"2021-06-13","v":583},{"d":"2021-06-14","v":640},{"d":"2021-06-15","v":638},{"d":"2021-06-16","v":612},{"d":"2021-06-17","v":612},{"d":"2021-06-18","v":610},{"d":"2021-06-19","v":600},{"d":"2021-06-20","v":583},{"d":"2021-06-21","v":585},{"d":"2021-06-22","v":536},{"d":"2021-06-23","v":535},{"d":"2021-06-24","v":511},{"d":"2021-06-25","v":510},{"d":"2021-06-26","v":440},{"d":"2021-06-27","v":407},{"d":"2021-06-28","v":405},{"d":"2021-06-29","v":381},{"d":"2021-06-30","v":383},
{"d":"2021-07-01","v":410},{"d":"2021-07-02","v":408},{"d":"2021-07-03","v":374},{"d":"2021-07-04","v":372},{"d":"2021-07-05","v":347},{"d":"2021-07-06","v":345},{"d":"2021-07-07","v":313},{"d":"2021-07-08","v":310},{"d":"2021-07-09","v":275},{"d":"2021-07-10","v":273},{"d":"2021-07-11","v":271},{"d":"2021-07-12","v":270},{"d":"2021-07-13","v":187},{"d":"2021-07-14","v":185},{"d":"2021-07-15","v":170},{"d":"2021-07-16","v":168},{"d":"2021-07-17","v":160},{"d":"2021-07-18","v":162},{"d":"2021-07-19","v":158},{"d":"2021-07-20","v":160},{"d":"2021-07-21","v":147},{"d":"2021-07-22","v":145},{"d":"2021-07-23","v":107},{"d":"2021-07-24","v":110},{"d":"2021-07-25","v":124},{"d":"2021-07-26","v":120},{"d":"2021-07-27","v":86},{"d":"2021-07-28","v":85},{"d":"2021-07-29","v":77},{"d":"2021-07-30","v":78},{"d":"2021-07-31","v":92},
{"d":"2021-08-01","v":93},{"d":"2021-08-02","v":73},{"d":"2021-08-03","v":75},{"d":"2021-08-04","v":72},{"d":"2021-08-05","v":65},{"d":"2021-08-06","v":66},{"d":"2021-08-07","v":63},{"d":"2021-08-08","v":61},{"d":"2021-08-09","v":58},{"d":"2021-08-10","v":52},{"d":"2021-08-11","v":50},{"d":"2021-08-12","v":35},{"d":"2021-08-13","v":37},{"d":"2021-08-14","v":40},{"d":"2021-08-15","v":41},{"d":"2021-08-16","v":39},{"d":"2021-08-17","v":40},{"d":"2021-08-18","v":42},{"d":"2021-08-19","v":48},{"d":"2021-08-20","v":47},{"d":"2021-08-21","v":31},{"d":"2021-08-22","v":32},{"d":"2021-08-23","v":30},{"d":"2021-08-24","v":31},{"d":"2021-08-25","v":32},{"d":"2021-08-26","v":29},{"d":"2021-08-27","v":30},{"d":"2021-08-28","v":28},{"d":"2021-08-29","v":29},{"d":"2021-08-30","v":30},{"d":"2021-08-31","v":28},
{"d":"2021-09-01","v":29},{"d":"2021-09-02","v":23},{"d":"2021-09-03","v":24},{"d":"2021-09-04","v":23},{"d":"2021-09-05","v":42},{"d":"2021-09-06","v":40},{"d":"2021-09-07","v":38},{"d":"2021-09-08","v":35},{"d":"2021-09-09","v":36},{"d":"2021-09-10","v":34},{"d":"2021-09-11","v":35},{"d":"2021-09-12","v":34},{"d":"2021-09-13","v":33},{"d":"2021-09-14","v":35},{"d":"2021-09-15","v":34},{"d":"2021-09-16","v":33},{"d":"2021-09-17","v":35},{"d":"2021-09-18","v":27},{"d":"2021-09-19","v":28},{"d":"2021-09-20","v":26},{"d":"2021-09-21","v":27},{"d":"2021-09-22","v":28},{"d":"2021-09-23","v":27},{"d":"2021-09-24","v":26},{"d":"2021-09-25","v":29},{"d":"2021-09-26","v":30},{"d":"2021-09-27","v":28},{"d":"2021-09-28","v":29},{"d":"2021-09-29","v":30},{"d":"2021-09-30","v":29},
{"d":"2021-10-01","v":34},{"d":"2021-10-02","v":33},{"d":"2021-10-03","v":31},{"d":"2021-10-04","v":32},{"d":"2021-10-05","v":30},{"d":"2021-10-06","v":31},{"d":"2021-10-07","v":32},{"d":"2021-10-08","v":31},{"d":"2021-10-09","v":38},{"d":"2021-10-10","v":37},{"d":"2021-10-11","v":38},{"d":"2021-10-12","v":36},{"d":"2021-10-13","v":34},{"d":"2021-10-14","v":35},{"d":"2021-10-15","v":33},{"d":"2021-10-16","v":34},{"d":"2021-10-17","v":35},{"d":"2021-10-18","v":47},{"d":"2021-10-19","v":46},{"d":"2021-10-20","v":48},{"d":"2021-10-21","v":45},{"d":"2021-10-22","v":44},{"d":"2021-10-23","v":43},{"d":"2021-10-24","v":45},{"d":"2021-10-25","v":44},{"d":"2021-10-26","v":37},{"d":"2021-10-27","v":38},{"d":"2021-10-28","v":36},{"d":"2021-10-29","v":37},{"d":"2021-10-30","v":56},{"d":"2021-10-31","v":55},
{"d":"2021-11-01","v":54},{"d":"2021-11-02","v":44},{"d":"2021-11-03","v":45},{"d":"2021-11-04","v":43},{"d":"2021-11-05","v":56},{"d":"2021-11-06","v":55},{"d":"2021-11-07","v":62},{"d":"2021-11-08","v":60},{"d":"2021-11-09","v":62},{"d":"2021-11-10","v":51},{"d":"2021-11-11","v":52},{"d":"2021-11-12","v":50},{"d":"2021-11-13","v":61},{"d":"2021-11-14","v":60},{"d":"2021-11-15","v":61},{"d":"2021-11-16","v":62},{"d":"2021-11-17","v":63},{"d":"2021-11-18","v":60},{"d":"2021-11-19","v":56},{"d":"2021-11-20","v":55},{"d":"2021-11-21","v":40},{"d":"2021-11-22","v":41},{"d":"2021-11-23","v":40},{"d":"2021-11-24","v":52},{"d":"2021-11-25","v":51},{"d":"2021-11-26","v":65},{"d":"2021-11-27","v":64},{"d":"2021-11-28","v":66},{"d":"2021-11-29","v":54},{"d":"2021-11-30","v":55},
{"d":"2021-12-01","v":45},{"d":"2021-12-02","v":46},{"d":"2021-12-03","v":44},{"d":"2021-12-04","v":40},{"d":"2021-12-05","v":41},{"d":"2021-12-06","v":39},{"d":"2021-12-07","v":35},{"d":"2021-12-08","v":36},{"d":"2021-12-09","v":34},{"d":"2021-12-10","v":35},{"d":"2021-12-11","v":29},{"d":"2021-12-12","v":30},{"d":"2021-12-13","v":51},{"d":"2021-12-14","v":50},{"d":"2021-12-15","v":44},{"d":"2021-12-16","v":45},{"d":"2021-12-17","v":43},{"d":"2021-12-18","v":33},{"d":"2021-12-19","v":34},{"d":"2021-12-20","v":33},{"d":"2021-12-21","v":35},{"d":"2021-12-22","v":36},{"d":"2021-12-23","v":56},{"d":"2021-12-24","v":55},{"d":"2021-12-25","v":57},{"d":"2021-12-26","v":59},{"d":"2021-12-27","v":58},{"d":"2021-12-28","v":65},{"d":"2021-12-29","v":64},{"d":"2021-12-30","v":71},{"d":"2021-12-31","v":70},
{"d":"2022-01-01","v":76},{"d":"2022-01-02","v":74},{"d":"2022-01-03","v":69},{"d":"2022-01-04","v":68},{"d":"2022-01-05","v":54},{"d":"2022-01-06","v":55},{"d":"2022-01-07","v":59},{"d":"2022-01-08","v":58},{"d":"2022-01-09","v":44},{"d":"2022-01-10","v":42},{"d":"2022-01-11","v":34},{"d":"2022-01-12","v":30},{"d":"2022-01-13","v":8},{"d":"2022-01-14","v":5}
]},
"spacing":36,
"vconcat":[
{"title":{"text":"Fallecidos según fecha de defunción","offset":22},
"data":{"name":"def"},
"width":1696,"height":334,
"mark":{"type":"bar","color":"#96C459","binSpacing":0},
"encoding":{
"x":{"field":"d","timeUnit":"utcyearmonthdate","type":"temporal","title":"Fecha de defunción",
"scale":{"domain":[{"year":2020,"month":2,"date":29,"utc":true},{"year":2022,"month":1,"date":20,"utc":true}]},
"axis":{"values":[{"year":2020,"month":4,"date":1,"utc":true},{"year":2020,"month":7,"date":1,"utc":true},{"year":2020,"month":10,"date":1,"utc":true},{"year":2021,"month":1,"date":1,"utc":true},{"year":2021,"month":4,"date":1,"utc":true},{"year":2021,"month":7,"date":1,"utc":true},{"year":2021,"month":10,"date":1,"utc":true},{"year":2022,"month":1,"date":1,"utc":true}],
"labelExpr":"['ene','feb','mar','abr','may','jun','jul','ago','sep','oct','nov','dic'][utcmonth(datum.value)] + ' ' + utcyear(datum.value)",
"labelFontSize":30,"labelPadding":10,"labelFlush":false,"labelOverlap":false,"titleFontSize":26,"titlePadding":3,
"grid":true,"gridColor":"#E8283F","gridDash":[2.5,9.4],"gridWidth":2}},
"y":{"field":"v","type":"quantitative","title":null,"scale":{"domain":[0,700],"nice":false},
"axis":{"values":[0,200,400,600],"labelFontSize":30,"labelPadding":7,"gridColor":"#BDBDBD","gridDash":[2.5,16],"gridWidth":1.5}}}},
{"title":{"text":"Fallecidos según fecha de inicio de síntomas","offset":9},
"data":{"name":"sin"},
"width":1700,"height":317,
"mark":{"type":"bar","color":"#EE7F1C","binSpacing":0},
"encoding":{
"x":{"field":"d","timeUnit":"utcyearmonthdate","type":"temporal","title":"Fecha inicio de sintomas",
"scale":{"domain":[{"year":2020,"month":2,"date":29,"utc":true},{"year":2022,"month":1,"date":15,"utc":true}]},
"axis":{"values":[{"year":2020,"month":4,"date":1,"utc":true},{"year":2020,"month":7,"date":1,"utc":true},{"year":2020,"month":10,"date":1,"utc":true},{"year":2021,"month":1,"date":1,"utc":true},{"year":2021,"month":4,"date":1,"utc":true},{"year":2021,"month":7,"date":1,"utc":true},{"year":2021,"month":10,"date":1,"utc":true},{"year":2022,"month":1,"date":1,"utc":true}],
"labelExpr":"['ene','feb','mar','abr','may','jun','jul','ago','sep','oct','nov','dic'][utcmonth(datum.value)] + ' ' + utcyear(datum.value)",
"labelFontSize":24,"labelPadding":10,"labelFlush":false,"labelOverlap":false,"titleFontSize":24,"titlePadding":5,
"grid":true,"gridColor":"#E8283F","gridDash":[2.5,9.4],"gridWidth":2}},
"y":{"field":"v","type":"quantitative","title":null,"scale":{"domain":[0,800],"nice":false},
"axis":{"values":[0,200,400,600,800],"labelFontSize":30,"labelPadding":30,"gridColor":"#BDBDBD","gridDash":[2.5,16],"gridWidth":1.5}}}}
]
}
